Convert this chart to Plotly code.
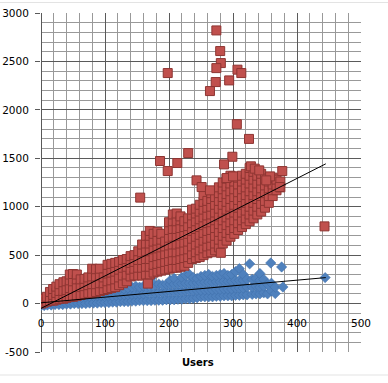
import plotly.graph_objects as go

# ---------------- data ----------------
# Red series: dense band, written column by column (x, [y values])
red_band = [
    (0, [0, 20]), (4, [10, 50]), (9, [20, 70]), (14, [30, 120]),
    (19, [30, 90, 150]), (24, [40, 110, 175]), (29, [50, 130, 200]),
    (35, [50, 130, 220]), (40, [60, 140, 230]), (45, [70, 160, 240, 300]),
    (50, [70, 150, 230, 305]), (56, [80, 170, 250, 300]), (62, [90, 170, 250]),
    (68, [100, 180, 255]), (74, [110, 190, 270]), (80, [110, 200, 280, 360]),
    (86, [120, 200, 280, 355]), (92, [130, 210, 290, 360]), (98, [140, 210, 270]),
    (104, [150, 230, 310, 400]), (110, [160, 240, 320, 410]),
    (116, [170, 250, 330, 420]), (122, [190, 270, 350, 430]),
    (128, [210, 290, 370, 450]), (134, [230, 300, 380, 460]),
    (140, [280, 350, 420, 490]), (146, [290, 360, 430, 500]),
    (152, [290, 370, 450, 540]), (158, [290, 370, 450, 530, 610]),
    (164, [300, 380, 460, 540, 620, 700]), (170, [300, 380, 460, 540, 620, 700, 750]),
    (176, [320, 400, 480, 560, 640, 720]), (182, [330, 410, 490, 570, 650, 740]),
    (188, [340, 420, 500, 580, 660, 720]), (194, [350, 430, 510, 590, 640]),
    (200, [360, 440, 520, 600, 680, 760, 840]),
    (206, [370, 450, 530, 610, 690, 770, 850, 920]),
    (212, [370, 450, 530, 610, 690, 770, 850, 930]),
    (218, [380, 460, 540, 620, 700, 780, 860, 900]),
    (224, [390, 470, 550, 630, 710, 790, 850]),
    (230, [420, 480, 560, 640, 720, 800, 880]),
    (236, [460, 510, 590, 670, 750, 830, 910, 970]),
    (242, [470, 530, 610, 690, 770, 850, 930, 980]),
    (248, [480, 550, 630, 710, 790, 870, 950, 1020]),
    (254, [500, 570, 650, 730, 810, 890, 970, 1050, 1120]),
    (260, [520, 590, 670, 750, 830, 910, 990, 1060]),
    (266, [530, 600, 680, 760, 840, 920, 1000, 1080, 1140]),
    (272, [550, 620, 700, 780, 860, 940, 1020, 1100]),
    (278, [580, 660, 740, 820, 900, 980, 1060, 1140, 1200]),
    (284, [620, 700, 780, 860, 940, 1020, 1100, 1180, 1250]),
    (290, [650, 730, 810, 890, 970, 1050, 1130, 1210, 1290]),
    (296, [690, 760, 840, 920, 1000, 1080, 1160, 1240, 1320]),
    (302, [720, 780, 860, 940, 1020, 1100, 1180, 1260, 1310]),
    (308, [760, 830, 910, 990, 1070, 1150, 1230, 1300]),
    (314, [790, 860, 940, 1020, 1100, 1180, 1260, 1320]),
    (320, [820, 880, 960, 1040, 1120, 1200, 1280, 1340]),
    (326, [850, 920, 1000, 1080, 1160, 1240, 1320, 1400]),
    (332, [880, 960, 1040, 1120, 1200, 1280, 1360]),
    (338, [920, 1000, 1080, 1160, 1240, 1320]),
    (344, [950, 1030, 1110, 1190, 1270, 1340]),
    (350, [990, 1060, 1140, 1220, 1290]),
    (356, [1040, 1110, 1190, 1260]),
    (362, [1110, 1170, 1230, 1300]),
    (368, [1170, 1220, 1280]),
    (374, [1200, 1260]),
]
red_out_x = [274, 280, 281, 274, 307, 313, 294, 273, 264, 198, 306, 325, 186, 198,
             213, 230, 299, 243, 286, 328, 334, 341, 377, 290, 300, 358, 352, 373,
             251, 264, 155, 443, 167, 281]
red_out_y = [2820, 2607, 2483, 2431, 2415, 2380, 2304, 2287, 2194, 2380, 1852, 1700, 1472, 1368,
             1451, 1554, 1516, 1272, 1437, 1417, 1393, 1375, 1368, 1296, 1313, 1313, 1272, 1203,
             1203, 1169, 1094, 797, 206, 524]

# Blue series: dense band, column by column (x, [y values])
blue_band = [
    (0, [-20, 0]), (5, [-20, 10]), (10, [-15, 20]), (16, [-15, 20]), (22, [-10, 30]),
    (28, [-10, 30]), (34, [-10, 40]), (40, [-5, 45]), (46, [-5, 50]), (52, [0, 50]),
    (58, [0, 55]), (64, [0, 60]), (70, [0, 65]), (76, [5, 70]), (82, [5, 75]),
    (88, [5, 80]), (94, [10, 80]), (100, [10, 70, 100]), (106, [10, 70, 110]),
    (112, [15, 75, 120]), (118, [15, 80, 130]), (124, [20, 85, 140]),
    (130, [20, 90, 150]), (136, [20, 90, 160]), (142, [25, 95, 170]),
    (148, [25, 100, 180]), (154, [30, 100, 170]), (160, [30, 100, 180]),
    (166, [30, 110, 200]), (172, [30, 110, 190, 260]), (178, [35, 110, 190]),
    (184, [35, 115, 200]), (190, [35, 115, 190]), (196, [40, 120, 200]),
    (202, [40, 120, 200, 240]), (208, [40, 120, 200, 260]), (214, [45, 125, 205]),
    (220, [45, 125, 205, 270]), (226, [50, 130, 210, 290]), (232, [50, 130, 210, 300]),
    (238, [55, 130, 210, 270]), (244, [60, 135, 215, 260]), (250, [70, 135, 215, 280]),
    (256, [70, 140, 220, 290]), (262, [70, 140, 220, 300]), (268, [70, 140, 220, 280]),
    (274, [75, 145, 225, 290]), (280, [75, 145, 225, 300]), (286, [80, 150, 230, 310]),
    (292, [80, 150, 230, 290]), (298, [80, 150, 230, 300]), (304, [85, 160, 240, 330]),
    (310, [85, 160, 240, 360]), (316, [90, 160, 240, 300]), (322, [90, 170, 250]),
    (330, [95, 170, 250]), (336, [100, 180, 260]), (342, [100, 170, 240, 310]),
    (348, [110, 180, 250]), (354, [100, 200]), (360, [130, 210]), (366, [103, 170]),
]
blue_out_x = [326, 359, 376, 378, 444]
blue_out_y = [410, 419, 378, 171, 268]

# Linear trendlines (endpoints)
trend_x = [0, 445]
red_trend_y = [-50, 1443]
blue_trend_y = [8, 268]

x_tick_vals = [0, 100, 200, 300, 400, 500]
x_tick_text = ["0", "100", "200", "300", "400", "500"]
y_tick_vals = [-500, 0, 500, 1000, 1500, 2000, 2500, 3000]
y_tick_text = ["-500", "0", "500", "1000", "1500", "2000", "2500", "3000"]
x_title = "Users"


def flatten(band, ox, oy):
    xs, ys = [], []
    for x, col in band:
        for y in col:
            xs.append(x)
            ys.append(y)
    return xs + list(ox), ys + list(oy)


red_x, red_y = flatten(red_band, red_out_x, red_out_y)
blue_x, blue_y = flatten(blue_band, blue_out_x, blue_out_y)

# ---------------- figure ----------------
FONT = "DejaVu Sans"
MAJOR = "#5a5a5a"
MINOR = "#999999"

fig = go.Figure()
fig.add_trace(go.Scatter(
    x=blue_x, y=blue_y, mode="markers",
    marker=dict(symbol="diamond", size=8, color="#4F81BD",
                line=dict(color="#3F6EA8", width=0.5)),
    showlegend=False, hoverinfo="skip"))
fig.add_trace(go.Scatter(
    x=red_x, y=red_y, mode="markers",
    marker=dict(symbol="square", size=9, color="#C0504D",
                line=dict(color="#8E3532", width=1)),
    showlegend=False, hoverinfo="skip"))
fig.add_trace(go.Scatter(
    x=trend_x, y=blue_trend_y, mode="lines",
    line=dict(color="#000000", width=1), showlegend=False, hoverinfo="skip"))
fig.add_trace(go.Scatter(
    x=trend_x, y=red_trend_y, mode="lines",
    line=dict(color="#000000", width=1), showlegend=False, hoverinfo="skip"))

fig.update_layout(
    width=388, height=383,
    margin=dict(l=41, r=27, t=13, b=31, autoexpand=False),
    paper_bgcolor="white", plot_bgcolor="white",
    font=dict(family=FONT, size=10.5, color="#000000"),
    xaxis=dict(
        range=[0, 500], tickmode="array", tickvals=x_tick_vals, ticktext=x_tick_text,
        showgrid=True, gridcolor=MAJOR, gridwidth=1, automargin=False,
        zeroline=True, zerolinecolor=MAJOR, zerolinewidth=1,
        showline=False, ticks="", anchor="free", position=500 / 3500,
        ticklabelstandoff=12,
        minor=dict(dtick=20, showgrid=True, gridcolor=MINOR, gridwidth=1),
        fixedrange=True,
    ),
    yaxis=dict(
        range=[-500, 3000], tickmode="array", tickvals=y_tick_vals, ticktext=y_tick_text,
        showgrid=True, gridcolor=MAJOR, gridwidth=1, automargin=False,
        zeroline=True, zerolinecolor=MAJOR, zerolinewidth=1,
        showline=False, ticks="outside", ticklen=5, tickcolor=MAJOR, tickwidth=1,
        ticklabelstandoff=4,
        minor=dict(dtick=100, showgrid=True, gridcolor=MINOR, gridwidth=1),
        fixedrange=True,
    ),
    annotations=[dict(
        text="<b>" + x_title + "</b>", xref="paper", yref="paper",
        x=0.49, y=-11 / 339, xanchor="center", yanchor="middle", showarrow=False,
        font=dict(family=FONT, size=10, color="#000000"))],
    shapes=[
        dict(type="line", xref="paper", yref="paper", x0=-0.2, x1=1.2,
             y0=1 + 10.5 / 339, y1=1 + 10.5 / 339, line=dict(color="#e3e3e3", width=1)),
        dict(type="line", xref="paper", yref="paper", x0=-0.2, x1=1.2,
             y0=-23 / 339, y1=-23 / 339, line=dict(color="#e3e3e3", width=1)),
    ],
)

# Remove the default 8px body margin so the figure sits at the page origin.
fig.write_html(
    "out.html",
    config={"displayModeBar": False, "staticPlot": True},
    post_script="document.body.style.margin='0';document.body.style.overflow='hidden';",
)
